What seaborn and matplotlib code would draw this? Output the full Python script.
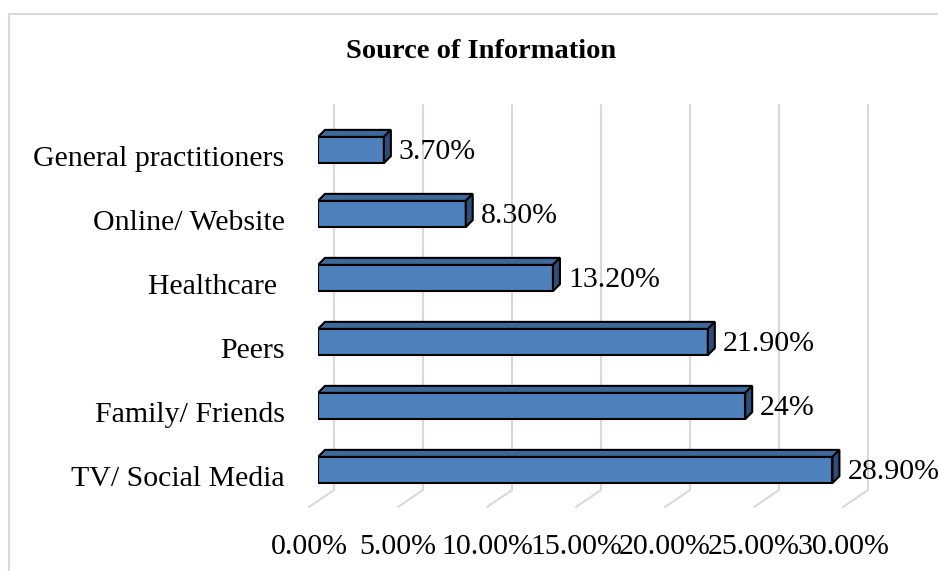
import numpy as np
import pandas as pd
import seaborn as sns
import matplotlib.pyplot as plt
import matplotlib.transforms as mtransforms
from matplotlib.patches import Polygon
from matplotlib.lines import Line2D

# datos
categories = ["General practitioners", "Online/ Website", "Healthcare ",
              "Peers", "Family/ Friends", "TV/ Social Media"]
values = [3.7, 8.3, 13.2, 21.9, 24.0, 28.9]
value_labels = ["3.70%", "8.30%", "13.20%", "21.90%", "24%", "28.90%"]
tick_values = [0, 5, 10, 15, 20, 25, 30]
tick_labels = ["0.00%", "5.00%", "10.00%", "15.00%", "20.00%", "25.00%", "30.00%"]

df = pd.DataFrame({"Fuente": categories, "Porcentaje": values})

sns.set_theme(style="white")
plt.rcParams["font.family"] = ["Liberation Serif", "DejaVu Serif"]
plt.rcParams["text.color"] = "black"
plt.rcParams["xtick.color"] = "black"
plt.rcParams["ytick.color"] = "black"

FS = 21.5
W, H, DPI = 938, 571, 100
fig = plt.figure(figsize=(W / DPI, H / DPI), dpi=DPI)
# front plane of the chart: 0% at x=318px, 30% at 852px, rows from 118px to 502px
ax = fig.add_axes([318 / W, (H - 502) / H, 534 / W, 384 / H])

sns.barplot(data=df, x="Porcentaje", y="Fuente", orient="h", color="#4F81BD",
            saturation=1, edgecolor="black", linewidth=1.5, width=0.41, ax=ax,
            zorder=3)
ax.set_xlim(0, 30)
ax.set_ylim(5.5, -0.5)
for s in ax.spines.values():
    s.set_visible(False)
ax.set_xlabel("")
ax.set_ylabel("")

px_x = 30 / 534   # data units per pixel
px_y = 6 / 384
dx, dy = 7 * px_x, 7 * px_y

# caras 3D de las barras
for p in list(ax.patches):
    x0, y0 = p.get_x(), p.get_y()
    w, h = p.get_width(), p.get_height()
    top = y0  # smaller value = higher on screen (inverted axis)
    ax.add_patch(Polygon([(x0, top), (x0 + w, top), (x0 + w + dx, top - dy), (x0 + dx, top - dy)],
                         closed=True, facecolor="#3F699E", edgecolor="black", lw=1.5, zorder=3))
    ax.add_patch(Polygon([(x0 + w, top), (x0 + w + dx, top - dy), (x0 + w + dx, top + h - dy), (x0 + w, top + h)],
                         closed=True, facecolor="#2F4D77", edgecolor="black", lw=1.5, zorder=3))

# rejilla en la pared del fondo y en el suelo
xt = ax.get_xaxis_transform()
back = xt + mtransforms.ScaledTranslation(16 / DPI, 0, fig.dpi_scale_trans)
y_top = (502 - 105) / 384
y_floor = (502 - 490) / 384
y_front = (502 - 507) / 384
for t in tick_values:
    ax.add_line(Line2D([t, t], [y_floor, y_top], transform=back, color="#D9D9D9",
                       lw=1.5, zorder=1, clip_on=False))
    x_back = ax.transData.transform((t, 0))[0] + 16
    x_front = x_back - 25
    xb = ax.transData.inverted().transform((x_back, 0))[0]
    xf = ax.transData.inverted().transform((x_front, 0))[0]
    ax.add_line(Line2D([xb, xf], [y_floor, y_front], transform=xt, color="#D9D9D9",
                       lw=1.5, zorder=1, clip_on=False))

ax.set_xticks(tick_values)
ax.set_xticklabels(tick_labels, fontsize=FS)
ax.tick_params(axis="x", length=0, pad=23)
ax.tick_params(axis="y", length=0, pad=24)
ax.set_yticks(range(len(categories)))
ax.set_yticklabels(categories, fontsize=FS)
shift_x = mtransforms.ScaledTranslation(-9 / DPI, 0, fig.dpi_scale_trans)
for lab in ax.get_xticklabels():
    lab.set_transform(lab.get_transform() + shift_x)
shift_y = mtransforms.ScaledTranslation(0, -6 / DPI, fig.dpi_scale_trans)
for lab in ax.get_yticklabels():
    lab.set_transform(lab.get_transform() + shift_y)

# etiquetas de valor
for i, (v, lab) in enumerate(zip(values, value_labels)):
    ax.text(v + 15 * px_x, i + 2 * px_y, lab, fontsize=FS, va="center", ha="left",
            color="black", clip_on=False)

fig.text(481 / W, (H - 52) / H, "Source of Information", fontsize=20.5, fontweight="bold",
         ha="center", va="center")

# marco del area del grafico
fig.add_artist(Line2D([9 / W, 1], [(H - 14) / H, (H - 14) / H], transform=fig.transFigure,
                      color="#D9D9D9", lw=1.5))
fig.add_artist(Line2D([9 / W, 9 / W], [0, (H - 14) / H], transform=fig.transFigure,
                      color="#D9D9D9", lw=1.5))

fig.savefig("out.png", dpi=DPI)
